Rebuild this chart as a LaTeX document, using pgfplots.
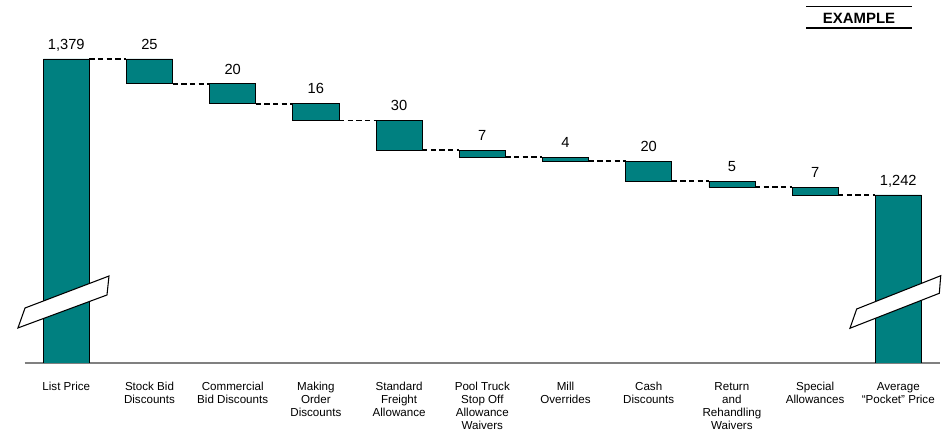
\documentclass[border=0pt]{standalone}
\usepackage{fontspec}
\setmainfont{Liberation Sans}
\usepackage{pgfplots}
\usepackage{pgfplotstable}
\pgfplotsset{compat=1.18}
\definecolor{barteal}{RGB}{0,128,128}

% x = category, base = invisible offset, amount = visible height, top = bar top, label = printed value
\pgfplotstableread{
x base amount top label
0 0 1379 1379 {1,379}
1 1354 25 1379 25
2 1334 20 1354 20
3 1317 17 1334 16
4 1287 30 1317 30
5 1280 7 1287 7
6 1276 4 1280 4
7 1256 20 1276 20
8 1250 6 1256 5
9 1242 8 1250 7
10 0 1242 1242 {1,242}
}\wf

\begin{document}
\begin{tikzpicture}
\useasboundingbox (0,0) rectangle (712.5pt,-323.25pt);
\pgfplotsset{
  common/.style={
    at={(18.525pt,-272.25pt)}, anchor=south west,
    scale only axis, width=686.4pt, height=272.25pt,
    xmin=-0.5, xmax=10.5, ymin=1072.8, ymax=1438.4,
  }
}
\begin{axis}[
  common,
  ybar stacked, bar width=0.553,
  axis x line*=bottom, axis y line=none,
  x axis line style={-, draw=gray, line width=1pt},
  xtick={0,...,10}, ytick=\empty,
  major tick length=0pt,
  xticklabels={
    {List Price},
    {Stock Bid\\Discounts},
    {Commercial\\Bid Discounts},
    {Making\\Order\\Discounts},
    {Standard\\Freight\\Allowance},
    {Pool Truck\\Stop Off\\Allowance\\Waivers},
    {Mill\\Overrides},
    {Cash\\Discounts},
    {Return\\and\\Rehandling\\Waivers},
    {Special\\Allowances},
    {Average\\“Pocket” Price}},
  xticklabel style={font=\fontsize{8.7}{9.75}\selectfont, align=center, anchor=north, inner sep=0pt, yshift=-14.5pt},
]
\addplot[draw=none, fill=none] table[x=x, y=base]{\wf};
\addplot[fill=barteal, draw=black, line width=0.6pt] table[x=x, y=amount]{\wf};
\end{axis}
\begin{axis}[common, hide axis, clip=false]
\addplot[black, line width=1.4pt, dash pattern=on 4pt off 2.5pt, unbounded coords=jump] coordinates {
(0.2765,1379) (0.7235,1379) (0.5,nan)
(1.2765,1354) (1.7235,1354) (1.5,nan)
(2.2765,1334) (2.7235,1334) (2.5,nan)
(3.2765,1317) (3.7235,1317) (3.5,nan)
(4.2765,1287) (4.7235,1287) (4.5,nan)
(5.2765,1280) (5.7235,1280) (5.5,nan)
(6.2765,1276) (6.7235,1276) (6.5,nan)
(7.2765,1256) (7.7235,1256) (7.5,nan)
(8.2765,1250) (8.7235,1250) (8.5,nan)
(9.2765,1242) (9.7235,1242)
};
\addplot[only marks, mark=none, nodes near coords, point meta=explicit symbolic,
  nodes near coords style={font=\fontsize{11}{13}\selectfont, anchor=base, inner sep=0pt, yshift=7.3pt}]
  table[x=x, y=top, meta=label]{\wf};
\addplot[fill=white, draw=black, line width=0.8pt] coordinates {(-0.496,1128.2) (0.513,1160.4) (0.489,1141.3) (-0.581,1108.1)} -- cycle;
\addplot[fill=white, draw=black, line width=0.8pt] coordinates {(9.500,1127.2) (10.510,1160.7) (10.493,1143.0) (9.419,1107.8)} -- cycle;
\end{axis}
\begin{scope}[x=0.75pt,y=-0.75pt]
\draw[line width=0.9pt] (806,6.3) -- (911.7,6.3);
\draw[line width=0.9pt] (806,28) -- (911.7,28);
\node[font=\bfseries\fontsize{11.2}{13}\selectfont, inner sep=0pt, anchor=base] at (859,24) {EXAMPLE};
\end{scope}
\end{tikzpicture}
\end{document}
